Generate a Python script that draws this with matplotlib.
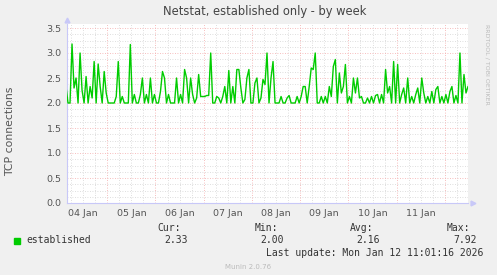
import matplotlib
matplotlib.use('Agg')
import matplotlib.pyplot as plt
import matplotlib.dates as mdates
import pandas as pd

# hourly averages of established TCP connections
values_a = [2.33, 2.0, 2.0, 3.18, 2.3, 2.5, 2.0, 3.0, 2.25, 2.0,
            2.53, 2.0, 2.33, 2.1, 2.83, 2.0, 2.78, 2.33, 2.0, 2.63,
            2.2, 2.0, 2.0, 2.0, 2.0, 2.13, 2.83, 2.0, 2.13, 2.0,
            2.0, 2.0, 3.17, 2.0, 2.17, 2.0, 2.0, 2.17, 2.5, 2.0,
            2.17, 2.0, 2.5, 2.0, 2.17, 2.0, 2.0, 2.23, 2.63, 2.5,
            2.0, 2.17, 2.0, 2.0, 2.0, 2.5, 2.0, 2.17, 2.0, 2.67,
            2.5, 2.0, 2.5, 2.17, 2.0, 2.1, 2.57]
values_b = [2.13, 2.13, 2.13, 2.15, 2.15, 3.0, 2.0, 2.0, 2.13, 2.1,
            2.0, 2.13, 2.33, 2.0, 2.65, 2.0, 2.33, 2.0, 2.67, 2.67,
            2.3, 2.0, 2.07, 2.5, 2.67, 2.0, 2.0, 2.4, 2.5, 2.0,
            2.1, 2.47, 2.37, 3.0, 2.0, 2.5, 2.83, 2.0, 2.0, 2.0,
            2.13, 2.0, 2.0, 2.1, 2.15, 2.0, 2.0, 2.0, 2.13, 2.0,
            2.13, 2.33, 2.33, 2.0, 2.33, 2.7, 2.67, 3.0, 2.0, 2.0,
            2.13, 2.0, 2.13, 2.0, 2.33, 2.13, 2.73]
values_c = [2.87, 2.0, 2.6, 2.2, 2.33, 2.77, 2.0, 2.13, 2.0, 2.5,
            2.2, 2.5, 2.1, 2.13, 2.0, 2.0, 2.1, 2.0, 2.13, 2.0,
            2.15, 2.17, 2.0, 2.17, 2.0, 2.67, 2.2, 2.33, 2.0, 2.83,
            2.0, 2.77, 2.0, 2.17, 2.3, 2.0, 2.5, 2.0, 2.13, 2.0,
            2.17, 2.3, 2.0, 2.5, 2.2, 2.0, 2.13, 2.0, 2.23, 2.0,
            2.27, 2.33, 2.0, 2.13, 2.0, 2.17, 2.0, 2.23, 2.33, 2.0,
            2.15, 2.0, 3.0, 2.0, 2.57, 2.2, 2.33]
established = values_a + values_b + values_c
times = pd.date_range('2026-01-04 03:30', periods=len(established), freq='h')

day_labels = ['04 Jan', '05 Jan', '06 Jan', '07 Jan', '08 Jan', '09 Jan', '10 Jan', '11 Jan']
legend_stats = {'Cur:': '2.33', 'Min:': '2.00', 'Avg:': '2.16', 'Max:': '7.92'}

BG = '#F0F0F0'
GREEN = '#00CC00'
AXIS = '#C8C8F8'
TXT = '#555555'

fig = plt.figure(figsize=(4.97, 2.75), dpi=100, facecolor=BG)
W, H = 497, 275
x0, x1, ytop, ybot = 67, 468, 24, 203
ax = fig.add_axes([x0 / W, (H - ybot) / H, (x1 - x0) / W, (ybot - ytop) / H])
ax.set_facecolor('white')

t_start = pd.Timestamp('2026-01-04 04:00')
t_end = pd.Timestamp('2026-01-12 11:30')
ax.set_xlim(mdates.date2num(t_start), mdates.date2num(t_end))
ax.set_ylim(0, 3.58)

# grid: grey minor every 0.125 / 6 h, red major every 0.5 / midnight
dot = (0, (1, 2))
for k in range(29):
    y = k * 0.125
    if k % 4 == 0:
        ax.axhline(y, color='#F4A8A8', lw=0.6, ls=dot, zorder=1)
    else:
        ax.axhline(y, color='#D4D4D4', lw=0.6, ls=dot, zorder=0)
for t in pd.date_range('2026-01-04 06:00', '2026-01-12 06:00', freq='6h'):
    if t.hour == 0:
        ax.axvline(mdates.date2num(t), color='#F4A8A8', lw=0.6, ls=dot, zorder=1)
    else:
        ax.axvline(mdates.date2num(t), color='#D4D4D4', lw=0.6, ls=dot, zorder=0)

ax.plot(mdates.date2num(times), established, color=GREEN, lw=1.0, zorder=3)

ax.set_yticks([0, 0.5, 1.0, 1.5, 2.0, 2.5, 3.0, 3.5])
ax.set_yticklabels(['0.0', '0.5', '1.0', '1.5', '2.0', '2.5', '3.0', '3.5'])
noons = pd.date_range('2026-01-04 12:00', periods=len(day_labels), freq='D')
ax.set_xticks(mdates.date2num(noons))
ax.set_xticklabels(day_labels)
ax.tick_params(length=0, labelsize=6.8, labelcolor=TXT, pad=4)

for s in ['top', 'right']:
    ax.spines[s].set_visible(False)
for s in ['left', 'bottom']:
    ax.spines[s].set_color(AXIS)
    ax.spines[s].set_linewidth(0.8)
ax.plot([0], [1.02], marker='^', ms=3.5, color=AXIS, transform=ax.transAxes, clip_on=False)
ax.plot([1.012], [0], marker='>', ms=3.5, color=AXIS, transform=ax.transAxes, clip_on=False)

fig.text(265 / W, 1 - 12 / H, 'Netstat, established only - by week', ha='center', va='center',
         fontsize=8.3, color='#444444')
fig.text(10 / W, 1 - 131 / H, 'TCP connections', rotation=90, ha='center', va='center',
         fontsize=7.8, color=TXT)
fig.text(487 / W, 1 - 24 / H, 'RRDTOOL / TOBI OETIKER', rotation=270, ha='center', va='top',
         fontsize=4.5, color='#BBBBBB')

# legend block
mono = 'DejaVu Sans Mono'
fig.patches.append(plt.Rectangle((14 / W, 1 - 244 / H), 6 / W, 6 / H, color=GREEN,
                                 transform=fig.transFigure, figure=fig))
fig.text(26 / W, 1 - 240 / H, 'established', family=mono, fontsize=7, color='#333333', va='center')
head_x = [181, 278, 373, 470]
val_x = [188, 284, 380, 477]
for (head, val), hx, vx in zip(legend_stats.items(), head_x, val_x):
    fig.text(hx / W, 1 - 228 / H, head, family=mono, fontsize=7, color='#333333',
             ha='right', va='center')
    fig.text(vx / W, 1 - 240 / H, val, family=mono, fontsize=7, color='#333333',
             ha='right', va='center')
fig.text(483 / W, 1 - 253 / H, 'Last update: Mon Jan 12 11:01:16 2026', family=mono,
         fontsize=7, color='#333333', ha='right', va='center')
fig.text(248 / W, 1 - 267 / H, 'Munin 2.0.76', fontsize=5, color='#BBBBBB', ha='center', va='center')

fig.savefig('out.png', dpi=100, facecolor=BG)
